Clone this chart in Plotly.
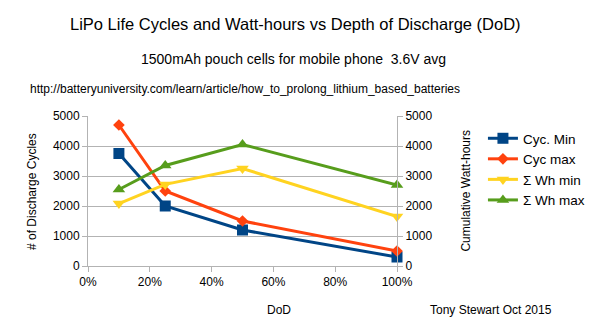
import plotly.graph_objects as go

dod = [0.10, 0.25, 0.50, 1.00]
cyc_min = [3750, 2000, 1200, 300]
cyc_max = [4700, 2500, 1500, 500]
wh_min = [2080, 2720, 3250, 1650]
wh_max = [2550, 3350, 4050, 2700]
names = ["Cyc. Min", "Cyc max", "Σ Wh min", "Σ Wh max"]
colors = ["#004586", "#ff420e", "#ffd320", "#579d1c"]
symbols = ["square", "diamond", "triangle-down", "triangle-up"]
sizes = [11, 9, 11, 11]
x_ticks = [0, 0.2, 0.4, 0.6, 0.8, 1.0]
x_labels = ["0%", "20%", "40%", "60%", "80%", "100%"]
y_ticks = [0, 1000, 2000, 3000, 4000, 5000]

FONT = "Liberation Sans, Arial, sans-serif"
PT, PH, PL, PW = 116, 150, 88, 320

def px(x):
    return (x - PL) / PW

def py(y):
    return (PT + PH - y) / PH

fig = go.Figure()
series = [cyc_min, cyc_max, wh_min, wh_max]
for i, (nm, ys) in enumerate(zip(names, series)):
    fig.add_trace(go.Scatter(
        x=dod, y=ys, name=nm, mode="lines+markers",
        yaxis="y" if i < 2 else "y2", cliponaxis=False,
        line=dict(color=colors[i], width=3),
        marker=dict(symbol=symbols[i], size=sizes[i], color=colors[i]),
    ))

axis_common = dict(showline=True, linecolor="#b3b3b3", linewidth=1,
                   ticks="outside", tickcolor="#b3b3b3", ticklen=5,
                   tickfont=dict(family=FONT, size=12, color="#000"))
fig.update_layout(
    width=602, height=336,
    margin=dict(l=PL, r=602 - PL - PW, t=PT, b=336 - PT - PH),
    paper_bgcolor="white", plot_bgcolor="white",
    font=dict(family=FONT, color="#000"),
    showlegend=True,
    legend=dict(x=px(497), y=py(123), xanchor="left", yanchor="top",
                font=dict(family=FONT, size=13.5), tracegroupgap=0,
                itemwidth=30, bgcolor="rgba(0,0,0,0)"),
    xaxis=dict(range=[0, 1.0], tickvals=x_ticks, ticktext=x_labels,
               showgrid=False, zeroline=False, **axis_common),
    yaxis=dict(range=[0, 5000], tickvals=y_ticks, showgrid=True,
               gridcolor="#b3b3b3", zeroline=False, **axis_common),
    yaxis2=dict(range=[0, 5000], tickvals=y_ticks, overlaying="y", side="right",
                showgrid=False, zeroline=False, **axis_common),
    annotations=[
        dict(text="LiPo Life Cycles and Watt-hours vs Depth of Discharge (DoD)",
             xref="paper", yref="paper", x=px(303), y=py(24),
             showarrow=False, font=dict(size=16.5, family=FONT), xanchor="center", yanchor="middle"),
        dict(text="1500mAh pouch cells for mobile phone  3.6V avg",
             xref="paper", yref="paper", x=px(301), y=py(59),
             showarrow=False, font=dict(size=14, family=FONT), xanchor="center", yanchor="middle"),
        dict(text="http://batteryuniversity.com/learn/article/how_to_prolong_lithium_based_batteries",
             xref="paper", yref="paper", x=px(26), y=py(89),
             showarrow=False, font=dict(size=12, family=FONT), xanchor="left", yanchor="middle"),
        dict(text="# of Discharge Cycles", textangle=-90,
             xref="paper", yref="paper", x=px(30), y=0.5,
             showarrow=False, font=dict(size=12, family=FONT), xanchor="center", yanchor="middle"),
        dict(text="Cumulative Watt-hours", textangle=-90,
             xref="paper", yref="paper", x=px(479), y=0.5,
             showarrow=False, font=dict(size=12, family=FONT), xanchor="center", yanchor="middle"),
        dict(text="DoD", xref="paper", yref="paper", x=px(286), y=py(310),
             showarrow=False, font=dict(size=12, family=FONT), xanchor="center", yanchor="middle"),
        dict(text="Tony Stewart Oct 2015", xref="paper", yref="paper", x=px(440),
             y=py(310),
             showarrow=False, font=dict(size=12, family=FONT), xanchor="left", yanchor="middle"),
    ],
)
fig.write_html("out.html")
